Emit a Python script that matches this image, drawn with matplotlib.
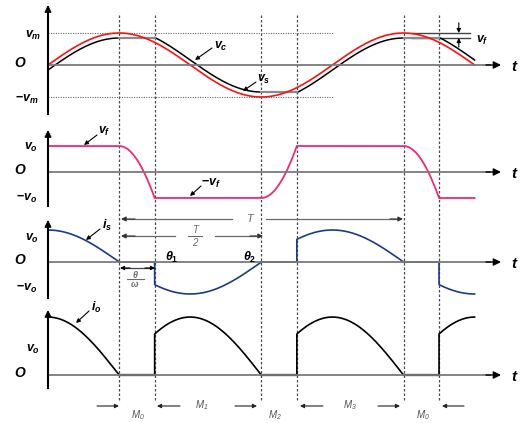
import numpy as np
import matplotlib
matplotlib.use('Agg')
import matplotlib.pyplot as plt

# ---------------- data (angles in degrees of the supply period) ----------------
switch_deg = [90, 135, 270, 315, 450, 495]          # dashed instants
dead_intervals = [(90, 135), (270, 315), (450, 495)]
end_deg = 540
vf_ratio = 0.156        # forward drop relative to Vm
is_amp = 1.28           # peak of i_s relative to Vo label level
io_amp = 2.07           # peak of i_o relative to Vo label level

vc_modes = [(0, 90, 'minus'), (90, 135, 'top'), (135, 270, 'plus'),
            (270, 315, 'bottom'), (315, 450, 'minus'), (450, 495, 'top'),
            (495, 540, 'plus')]
vf_modes = [(0, 90, 'high'), (90, 135, 'fall'), (135, 270, 'low'),
            (270, 315, 'rise'), (315, 450, 'high'), (450, 495, 'fall'),
            (495, 540, 'low')]
cond_modes = [(0, 90, 1), (90, 135, 0), (135, 270, 1), (270, 315, 0),
              (315, 450, 1), (450, 495, 0), (495, 540, 1)]

m_labels = [r'$\mathsf{M_0}$', r'$\mathsf{M_1}$', r'$\mathsf{M_2}$',
            r'$\mathsf{M_3}$', r'$\mathsf{M_0}$']

# ---------------- style ----------------
plt.rcParams['mathtext.fontset'] = 'custom'
plt.rcParams['mathtext.it'] = 'Liberation Sans:italic:bold'
plt.rcParams['mathtext.rm'] = 'Liberation Sans:bold'
plt.rcParams['mathtext.bf'] = 'Liberation Sans:bold:italic'
plt.rcParams['mathtext.sf'] = 'Liberation Sans:italic'

W, H = 523, 423
X0, SC = 48, 0.79                 # pixel of t=0, px per degree
XL = (-X0 / SC, (W - X0) / SC)
RED, PINK, BLUE = '#ff1010', '#f0287a', '#1c3a86'
GRAY = '#7a7a7a'

fig = plt.figure(figsize=(W / 100, H / 100), dpi=100)


def panel(y0, unit):
    ax = fig.add_axes([0, 0, 1, 1], facecolor='none')
    ax.set_xlim(*XL)
    ax.set_ylim(-(H - y0) / unit, y0 / unit)
    ax.axis('off')
    return ax


def build(modes, fn, n=200):
    xs, ys = [], []
    for a, b, m in modes:
        p = np.linspace(a, b, n)
        xs.append(p)
        ys.append(fn(p, m))
    return np.concatenate(xs), np.concatenate(ys)


sin = lambda d: np.sin(np.deg2rad(d))
cos = lambda d: np.cos(np.deg2rad(d))

# ---------- panel 1: vs, vc ----------
ax1 = panel(65, 32)
for d in switch_deg:
    ax1.axvline(d, ymin=1 - 400 / H, ymax=1 - 15 / H, color='#4a4a4a',
                lw=0.9, ls=(0, (2, 1.6)), zorder=0.5)
ph = np.linspace(0, end_deg, 1500)
ax1.plot([0, 362], [1, 1], color='#666666', lw=0.8, ls=(0, (1, 1.2)))
ax1.plot([0, 362], [-1, -1], color='#666666', lw=0.8, ls=(0, (1, 1.2)))


def vc_fn(p, m):
    if m == 'minus':
        return sin(p) - vf_ratio
    if m == 'plus':
        return sin(p) + vf_ratio
    if m == 'top':
        return np.full_like(p, 1 - vf_ratio)
    return np.full_like(p, -1 + vf_ratio)


xc, yc = build(vc_modes, vc_fn)
ax1.plot(xc, yc, color='black', lw=1.1, zorder=3)
for a, b, m in vc_modes:
    if m in ('top', 'bottom'):
        lv = 1 - vf_ratio if m == 'top' else -1 + vf_ratio
        ax1.plot([a, b], [lv, lv], color='#8a8a8a', lw=1.6, zorder=3.5)
ax1.plot(ph, sin(ph), color=RED, lw=1.2, zorder=4)
# Vf marker
ax1.plot([461, 534], [1, 1], color='#444444', lw=1.0)
ax1.plot([461, 534], [1 - vf_ratio, 1 - vf_ratio], color='#444444', lw=1.0)
ax1.annotate('', xy=(520, 1), xytext=(520, 1.32),
             arrowprops=dict(arrowstyle='-|>', color='k', lw=0.8,
                             mutation_scale=6, shrinkA=0, shrinkB=0))
ax1.annotate('', xy=(520, 1 - vf_ratio), xytext=(520, 0.56),
             arrowprops=dict(arrowstyle='-|>', color='k', lw=0.8,
                             mutation_scale=6, shrinkA=0, shrinkB=0))

# ---------- panel 2: vf ----------
ax2 = panel(172, 26)
s135 = sin(135)


def vf_fn(p, m):
    if m == 'high':
        return np.ones_like(p)
    if m == 'low':
        return -np.ones_like(p)
    if m == 'fall':
        return 1 - 2 * (1 - sin(p)) / (1 - s135)
    return -1 + 2 * (1 + sin(p)) / (1 - s135)


xf, yf = build(vf_modes, vf_fn)
ax2.plot(xf, yf, color=PINK, lw=1.3, zorder=4)

# ---------- panel 3: is ----------
ax3 = panel(262, 25)
xs_, ys_ = build(cond_modes, lambda p, m: is_amp * cos(p) * m)
ax3.plot(xs_, ys_, color=BLUE, lw=1.2, zorder=4)

# ---------- panel 4: io ----------
ax4 = panel(375, 28)
xo, yo = build(cond_modes, lambda p, m: io_amp * np.abs(cos(p)) * m)
ax4.plot(xo, yo, color='black', lw=1.2, zorder=4)
for a, b in dead_intervals:
    ax4.plot([a, b], [0, 0], color='black', lw=1.6, zorder=4)

# ---------- pixel overlay for axes, labels, annotations ----------
axp = fig.add_axes([0, 0, 1, 1], facecolor='none')
axp.set_xlim(0, W)
axp.set_ylim(H, 0)
axp.axis('off')


def arrow(tip, tail, color='k', lw=0.8, ms=6):
    axp.annotate('', xy=tip, xytext=tail,
                 arrowprops=dict(arrowstyle='-|>', color=color, lw=lw,
                                 mutation_scale=ms, shrinkA=0, shrinkB=0))


LBL = dict(fontsize=9, ha='center', va='center', color='black')
OFONT = dict(family='Liberation Sans', weight='bold', style='italic')

axes_spec = [(65, 5, 114), (172, 130, 206), (262, 220, 298), (375, 310, 388)]
for y0, top, bot in axes_spec:
    axp.plot([X0, 490], [y0, y0], color=GRAY, lw=1.3, zorder=1)
    arrow((501, y0), (486, y0), lw=1.0, ms=11)
    axp.plot([X0, X0], [bot, top + 8], color='black', lw=1.5, zorder=5)
    arrow((X0, top), (X0, top + 10), lw=1.0, ms=10)
    axp.text(514, y0 + 2, 't', fontsize=11, ha='center', va='center', **OFONT)
    axp.text(20, y0 - 2, 'O', fontsize=10, ha='center', va='center', **OFONT)

# panel 1 labels
axp.text(33, 35, r'$v_m$', **LBL)
axp.text(27, 99, r'$-v_m$', **LBL)
axp.text(221, 46, r'$v_c$', **LBL)
arrow((195, 60), (212, 48))
axp.text(264, 79, r'$v_s$', **LBL)
arrow((243, 91), (256, 82))
axp.text(482, 40, r'$v_f$', **LBL)

# panel 2 labels
axp.text(31, 147, r'$v_o$', **LBL)
axp.text(27, 198, r'$-v_o$', **LBL)
axp.text(104, 131, r'$v_f$', **LBL)
arrow((84, 145), (97, 135))
axp.text(211, 183, r'$-v_f$', **LBL)
arrow((190, 196), (201, 186))

# panel 3 labels
axp.text(32, 238, r'$v_o$', **LBL)
axp.text(27, 288, r'$-v_o$', **LBL)
axp.text(107, 225, r'$i_s$', **LBL)
arrow((86, 240), (100, 229))
axp.text(172, 257, r'$\theta_1$', **LBL)
axp.text(250, 257, r'$\theta_2$', **LBL)

# T and T/2 arrows
TG = '#6a6a6a'
axp.plot([123, 232], [219, 219], color=TG, lw=0.9)
axp.plot([266, 396], [219, 219], color=TG, lw=0.9)
arrow((121, 219), (135, 219), color='#333333', ms=7)
arrow((403, 219), (390, 219), color='#333333', ms=7)
axp.text(250, 219, 'T', fontsize=8, color=TG, ha='center', va='center',
         family='Liberation Sans', style='italic')
axp.plot([123, 175], [236, 236], color=TG, lw=0.9)
axp.plot([215, 256], [236, 236], color=TG, lw=0.9)
arrow((121, 236), (135, 236), color='#333333', ms=7)
arrow((263, 236), (250, 236), color='#333333', ms=7)
axp.text(195, 230, 'T', fontsize=7, color=TG, ha='center', va='center',
         family='Liberation Sans', style='italic')
axp.plot([188, 202], [236.5, 236.5], color=TG, lw=0.8)
axp.text(195, 243, '2', fontsize=7, color=TG, ha='center', va='center',
         family='Liberation Sans', style='italic')
# theta/omega
axp.plot([124, 151], [268, 268], color='#444444', lw=0.9)
arrow((120, 268), (130, 268), ms=6)
arrow((155, 268), (145, 268), ms=6)
axp.text(135, 274.5, r'$\theta$', fontsize=6.5, color=TG, ha='center',
         va='center', family='DejaVu Sans', style='italic')
axp.plot([127, 144], [279, 279], color=TG, lw=0.8)
axp.text(135, 284, r'$\omega$', fontsize=6.5, color=TG, ha='center',
         va='center', style='italic')

# panel 4 labels
axp.text(33, 349, r'$v_o$', **LBL)
axp.text(96, 307, r'$i_o$', **LBL)
arrow((76, 323), (89, 311))

# bottom interval markers
MG = '#555555'
arrow((119, 406), (97, 406), color='#222222', ms=6)
arrow((157, 406), (180, 406), color='#222222', ms=6)
arrow((257, 406), (235, 406), color='#222222', ms=6)
arrow((300, 406), (323, 406), color='#222222', ms=6)
arrow((400, 406), (378, 406), color='#222222', ms=6)
arrow((442, 406), (464, 406), color='#222222', ms=6)
m_pos = [(138, 415), (202, 405), (275, 415), (350, 405), (423, 415)]
for (x, y), lab in zip(m_pos, m_labels):
    axp.text(x, y, lab, fontsize=7, color=MG, ha='center', va='center')

fig.savefig('out.png', dpi=100)
